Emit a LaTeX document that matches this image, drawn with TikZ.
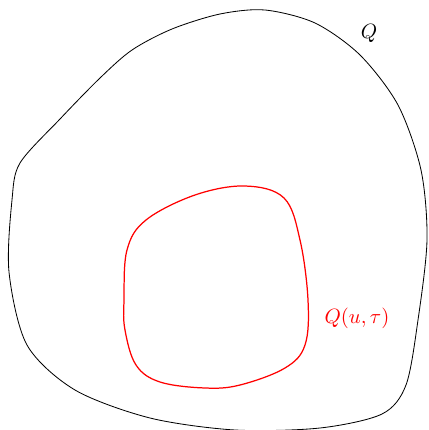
\documentclass[tikz,border=0pt]{standalone}
\usepackage{amsmath,amssymb}
\usepackage{xcolor}
\usepackage{tikz}
\usetikzlibrary{calc,positioning}

\begin{document}
\begin{tikzpicture}[x=0.017cm, y=-0.017cm]
				\useasboundingbox (0,0) rectangle (428,430);

				% outer domain
				\draw [black, thin] plot [smooth cycle, tension=0.5] coordinates {
					(20,163) (60,119) (100,78) (132,50) (172,29) (220,14) (265,10) (315,23) (360,55) (398,105)
					(421,170) (427,240) (418,320) (406,385) (382,414) (320,428) (235,430)
					(150,418) (75,390) (27,345) (9,272) (12,200)};
				\node (labQ) at (369,33) {$Q$};

				% inner set
				\draw [red, semithick] plot [smooth cycle, tension=0.6] coordinates {
					(124,300) (127,250) (146,220) (195,195) (245,186) (284,198) (300,240)
					(308,300) (305,345) (285,368) (240,385) (205,388) (160,382) (136,365) (125,330)};
				\node [red] (labQu) at (357,318) {$Q(u,\tau)$};
\end{tikzpicture}
\end{document}
